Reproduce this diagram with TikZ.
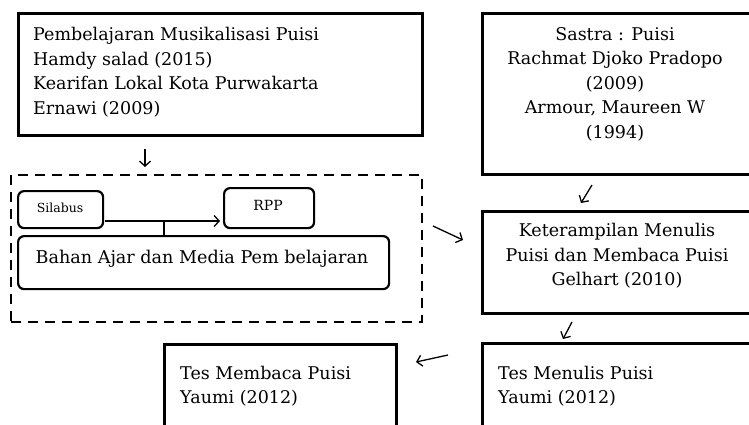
\documentclass[tikz,border=0pt]{standalone}
\usepackage{fontspec}
\setmainfont{DejaVu Serif}
\usetikzlibrary{arrows.meta}

\tikzset{
  x=1pt, y=-1pt,
  frame/.style={draw, line width=2.6pt, inner sep=0pt, anchor=north west},
  soft/.style={draw, line width=2.2pt, rounded corners=6pt, inner sep=0pt, anchor=north west},
  group/.style={draw, line width=2.4pt, dash pattern=on 10pt off 7pt, inner sep=0pt, anchor=north west},
  words/.style={font=\fontsize{17.5}{24.5}\selectfont, inner sep=0pt},
  arr/.style={line width=1.3pt, -{Straight Barb[length=5pt,width=11pt,line width=1.3pt]}},
  link/.style={line width=1.3pt}
}

\begin{document}
\begin{tikzpicture}
\useasboundingbox (0,0) rectangle (749,424);

% literature boxes
\node[frame, minimum width=404, minimum height=122] (lit) at (17,12) {};
\node[words, align=left, anchor=west] (littext) at (33,72)
  {Pembelajaran Musikalisasi Puisi\\Hamdy salad (2015)\\Kearifan Lokal Kota Purwakarta\\Ernawi (2009)};

\node[frame, minimum width=272, minimum height=161] (theory) at (481,12) {};
\node[words, align=center] (theorytext) at (615,84)
  {Sastra : Puisi\\Rachmat Djoko Pradopo\\(2009)\\Armour, Maureen W\\(1994)};

% learning materials group
\node[group, minimum width=411, minimum height=147] (grp) at (10,174) {};
\node[soft, minimum width=85, minimum height=37] (silabus) at (17,190) {};
\node[font=\fontsize{12.5}{14}\selectfont, inner sep=0pt] (silabustext) at (60,208) {Silabus};
\node[soft, minimum width=90, minimum height=40] (rpp) at (223,187) {};
\node[font=\fontsize{14}{16}\selectfont, inner sep=0pt] (rpptext) at (268,205) {RPP};
\node[soft, minimum width=371, minimum height=53] (bahan) at (17,235) {};
\node[font=\fontsize{17.6}{20}\selectfont, inner sep=0pt] (bahantext) at (202,259) {Bahan Ajar dan Media Pem belajaran};

% skill box
\node[frame, minimum width=272, minimum height=102] (skill) at (481,210) {};
\node[words, align=center] (skilltext) at (617,256)
  {Keterampilan Menulis\\Puisi dan Membaca Puisi\\Gelhart (2010)};

% test boxes
\node[frame, minimum width=272, minimum height=100] (twrite) at (481,342) {};
\node[words, align=left, anchor=west] (twritetext) at (498,386)
  {Tes Menulis Puisi\\Yaumi (2012)};
\node[frame, minimum width=232, minimum height=100] (tread) at (163,343) {};
\node[words, align=left, anchor=west] (treadtext) at (180,386)
  {Tes Membaca Puisi\\Yaumi (2012)};

% connector ends
\coordinate (a1) at (145,149);
\coordinate (a2) at (145,167);
\coordinate (s1) at (105,221);
\coordinate (s2) at (220,221);
\coordinate (t1) at (164,221);
\coordinate (g1) at (433,226);
\coordinate (g2) at (463,240);
\coordinate (b1) at (592,185);
\coordinate (b2) at (581,203);
\coordinate (c1) at (572,322);
\coordinate (c2) at (563,339);
\coordinate (d1) at (448,355);
\coordinate (d2) at (416,362);

\draw[arr] (a1) -- (a2);
\draw[arr] (s1) -- (s2);
\draw[link] (t1) -- (t1 |- bahan.north);
\draw[arr] (g1) -- (g2);
\draw[arr] (b1) -- (b2);
\draw[arr] (c1) -- (c2);
\draw[arr] (d1) -- (d2);
\end{tikzpicture}
\end{document}
